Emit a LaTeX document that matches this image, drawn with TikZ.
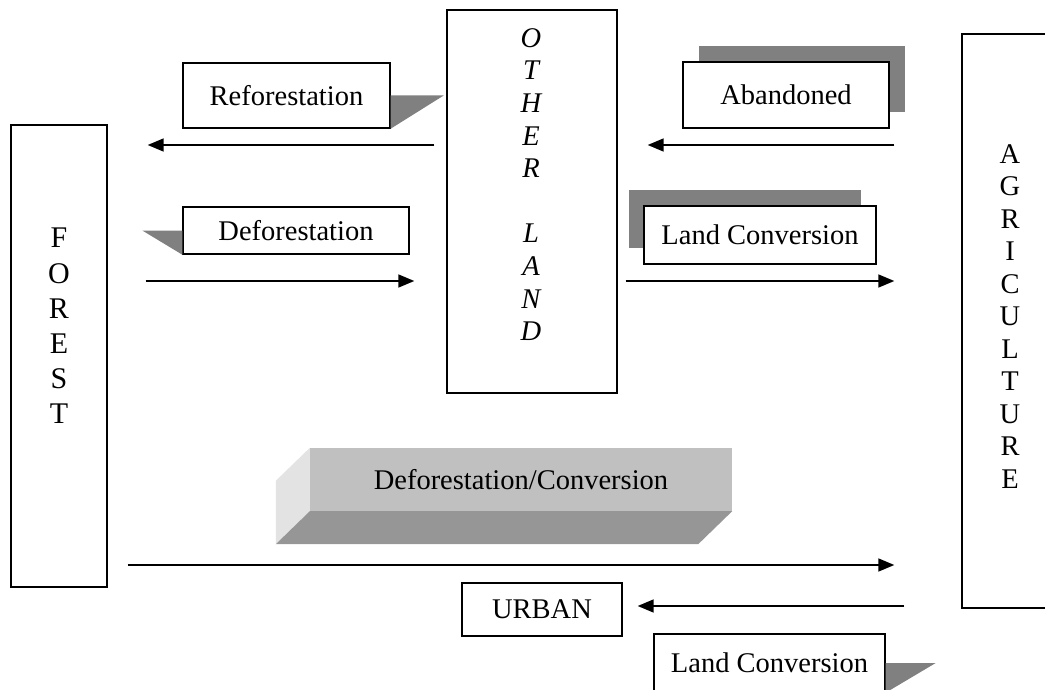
\documentclass[tikz,border=0pt]{standalone}
\usepackage{fontspec}
\setmainfont{Liberation Serif}
\usetikzlibrary{arrows.meta,calc,shadows}
\definecolor{shadowgray}{HTML}{808080}
\definecolor{frontgray}{HTML}{C0C0C0}
\definecolor{sidegray}{HTML}{E3E3E3}
\definecolor{bottomgray}{HTML}{969696}
\begin{document}
\begin{tikzpicture}[x=1pt,y=-1pt,
  txt/.style={font=\fontsize{28.5}{34}\selectfont},
  box/.style={draw=black,fill=white,line width=1.4pt,inner sep=0pt,txt},
  bigbox/.style={draw=black,fill=white,line width=1.4pt,inner sep=0pt},
  arr/.style={line width=1.7pt,-{Triangle[length=16pt,width=13pt]}},
  shad/.style={fill=shadowgray,draw=none},
  vtext/.style={align=center,inner sep=0pt}]
\useasboundingbox (0,0) rectangle (1045,690);
\clip (0,0) rectangle (1045,690);

% main land-use boxes
\node[bigbox,minimum width=96pt,minimum height=462pt] (forest) at (59,356) {};
\node[bigbox,minimum width=170pt,minimum height=383pt] (other) at (532,201.5) {};
\node[bigbox,minimum width=96pt,minimum height=574pt] (agri) at (1010,321) {};

\node[vtext,font=\fontsize{30}{35.2}\selectfont] (forestlbl) at (59,326) {F\\O\\R\\E\\S\\T};
\node[vtext,font=\itshape\fontsize{28.5}{32.6}\selectfont] (otherlbl) at (531,184.5) {O\\T\\H\\E\\R\\[32.6pt]L\\A\\N\\D};
\node[vtext,font=\fontsize{28.5}{32.5}\selectfont] (agrilbl) at (1010,316.5) {A\\G\\R\\I\\C\\U\\L\\T\\U\\R\\E};

% label boxes
\node[box,minimum width=207pt,minimum height=65pt] (refo) at (286.5,95.5) {Reforestation};
\fill[shad] (refo.east) -- ++(53,0) -- (refo.south east) -- cycle;

\node[box,minimum width=206pt,minimum height=66pt,
  general shadow={fill=shadowgray,shadow xshift=16pt,shadow yshift=16pt}] (aband) at (786,95) {Abandoned};

\node[box,minimum width=226pt,minimum height=47pt] (defo) at (296,230.5) {Deforestation};
\fill[shad] (defo.west) -- ++(-40,0) -- (defo.south west) -- cycle;

\node[box,minimum width=232pt,minimum height=58pt,
  general shadow={fill=shadowgray,shadow xshift=-15pt,shadow yshift=16pt}] (landc1) at (760,235) {Land Conversion};

\node[box,minimum width=160pt,minimum height=53pt] (urban) at (542,609.5) {URBAN};

\node[box,minimum width=231pt,minimum height=58pt] (landc2) at (769.5,663) {Land Conversion};
\fill[shad] (landc2.east) -- ++(50,0) -- (landc2.south east) -- cycle;

% 3D block
\node[fill=frontgray,minimum width=422pt,minimum height=63pt,inner sep=0pt,txt] (defconv) at (521,479.5) {Deforestation/Conversion};
\fill[sidegray] (defconv.north west) -- ($(defconv.north west)+(-34,33)$) -- ($(defconv.south west)+(-34,33)$) -- (defconv.south west) -- cycle;
\fill[bottomgray] (defconv.south west) -- (defconv.south east) -- ($(defconv.south east)+(-34,33)$) -- ($(defconv.south west)+(-34,33)$) -- cycle;

% arrow levels
\coordinate (ya) at (0,145);
\coordinate (yb) at (0,281);
\coordinate (yc) at (0,565);
\coordinate (yd) at (0,606);

\draw[arr,shorten <=12pt,shorten >=40pt] (other.west |- ya) -- (forest.east |- ya);
\draw[arr,shorten <=67pt,shorten >=30pt] (agri.west |- ya) -- (other.east |- ya);
\draw[arr,shorten <=38pt,shorten >=32pt] (forest.east |- yb) -- (other.west |- yb);
\draw[arr,shorten <=8pt,shorten >=67pt] (other.east |- yb) -- (agri.west |- yb);
\draw[arr,shorten <=20pt,shorten >=67pt] (forest.east |- yc) -- (agri.west |- yc);
\draw[arr,shorten <=57pt,shorten >=15pt] (agri.west |- yd) -- (urban.east |- yd);
\end{tikzpicture}
\end{document}
